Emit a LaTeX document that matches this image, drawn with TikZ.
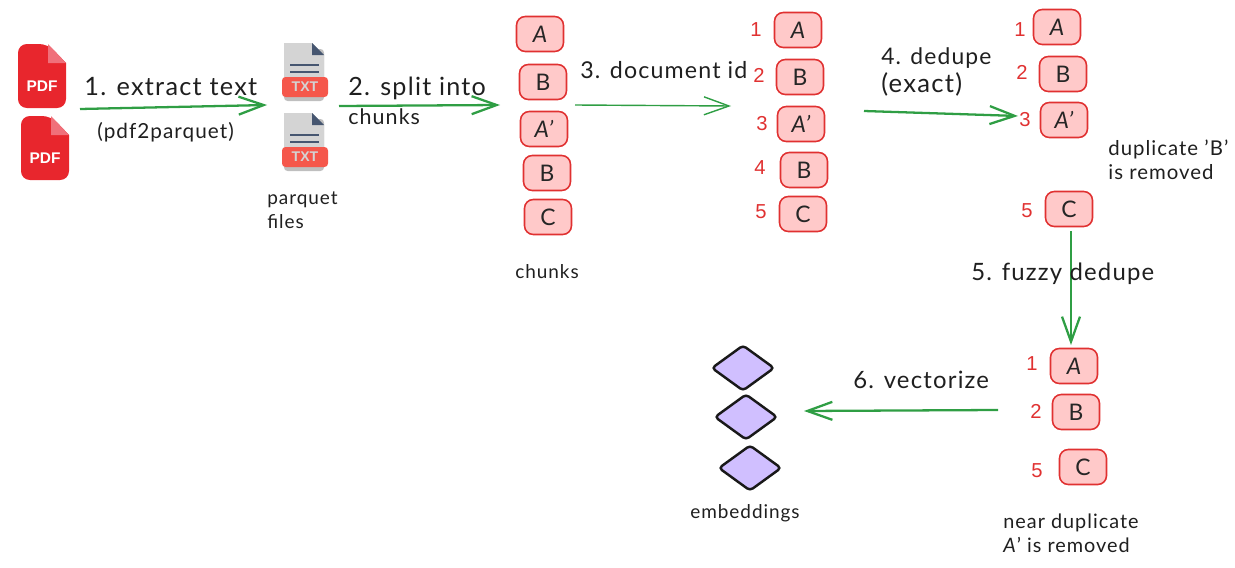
\documentclass[tikz,border=0pt]{standalone}
\usepackage{fontspec}
\setmainfont{Lato}[LetterSpace=5]
\newfontfamily\iconfont{Liberation Sans}
\usetikzlibrary{shapes.geometric, arrows.meta}

\definecolor{chunkfill}{HTML}{FFC9C9}
\definecolor{chunkline}{HTML}{E03131}
\definecolor{flowgreen}{HTML}{2F9E44}
\definecolor{vecfill}{HTML}{D0BFFF}
\definecolor{pdfred}{HTML}{E8262D}
\definecolor{pdffold}{HTML}{F0707A}
\definecolor{txtgray}{HTML}{D4D4D4}
\definecolor{txtblue}{HTML}{465670}
\definecolor{txtband}{HTML}{F5574B}

\tikzset{
  chunk/.style={draw=chunkline, fill=chunkfill, line width=0.9pt, rounded corners=5pt,
    minimum width=0.94cm, minimum height=0.7cm, inner sep=0pt, text=black!85, font=\fontsize{13}{15}\selectfont},
  idnum/.style={text=chunkline, inner sep=0pt, font=\iconfont\fontsize{11.5}{13}\selectfont},
  vec/.style={diamond, draw=black!90, fill=vecfill, line width=1.4pt, rounded corners=2pt,
    minimum width=1.26cm, minimum height=0.92cm, inner sep=0pt, aspect=1.38},
  flow/.style={-{Straight Barb[length=0.5cm, width=0.36cm]}, draw=flowgreen, line width=1.3pt},
  steplabel/.style={align=left, anchor=west, inner sep=0pt, text=black!88, font=\fontsize{13.6}{16}\selectfont},
  note/.style={align=left, anchor=west, inner sep=0pt, text=black!88, font=\fontsize{10.8}{13.6}\selectfont},
  pdfdoc/.pic={
    \fill[pdfred] (48,19) [rounded corners=5pt] -- (48,64) -- (0,64) -- (0,0) -- (30,0) [sharp corners] -- cycle;
    \fill[pdffold] (30,0) -- (48,19) -- (30,19) -- cycle;
    \node[text=white, inner sep=0pt, font=\iconfont\bfseries\fontsize{8.8}{10}\selectfont] (-label) at (24,42) {PDF};
  },
  txtdoc/.pic={
    \fill[black!25, rounded corners=2pt] (2,6) rectangle (42,58);
    \fill[txtgray] (2,0) -- (30,0) -- (42,12) -- (42,50) -- (2,50) -- cycle;
    \fill[txtblue] (30,0) -- (42,12) -- (30,12) -- cycle;
    \draw[txtblue, line width=0.7pt] (8,22) -- (37,22) (8,29) -- (37,29);
    \fill[txtband, rounded corners=2pt] (0,34) rectangle (46,54);
    \node[text=txtgray, inner sep=0pt, font=\iconfont\bfseries\fontsize{8}{10}\selectfont] (-label) at (23,44) {TXT};
  }
}

\begin{document}
\begin{tikzpicture}[x=0.02cm, y=-0.02cm]
\useasboundingbox (0,0) rectangle (1235,568);

% Source files
\pic (pdfa) at (18,44) {pdfdoc};
\pic (pdfb) at (21,116) {pdfdoc};
\pic (txta) at (282,43) {txtdoc};
\pic (txtb) at (282,113) {txtdoc};
\node[note] (parquet) at (267,210) {parquet\\files};

% Chunks
\node[chunk] (cha) at (540,34) {\itshape A};
\node[chunk] (chb) at (543,82) {B};
\node[chunk] (chap) at (544,129) {\itshape A'};
\node[chunk] (chbb) at (547,173) {B};
\node[chunk] (chc) at (548,217) {C};
\node[note] (chunks) at (515,272) {chunks};

% Chunks with document id
\node[chunk] (ida) at (798,30) {\itshape A};
\node[chunk] (idb) at (800,77) {B};
\node[chunk] (idap) at (801,124) {\itshape A'};
\node[chunk] (idbb) at (804,170) {B};
\node[chunk] (idc) at (803,214) {C};
\node[idnum] (numa) at (756,30) {1};
\node[idnum] (numb) at (759,75) {2};
\node[idnum] (numap) at (762,124) {3};
\node[idnum] (numbb) at (760,168) {4};
\node[idnum] (numc) at (761,212) {5};

% Exact dedupe
\node[chunk] (exa) at (1057,27) {\itshape A};
\node[chunk] (exb) at (1063,74) {B};
\node[chunk] (exap) at (1064,120) {\itshape A'};
\node[chunk] (exc) at (1069,209) {C};
\node[idnum] (exnuma) at (1020,30) {1};
\node[idnum] (exnumb) at (1022,72) {2};
\node[idnum] (exnumap) at (1025,120) {3};
\node[idnum] (exnumc) at (1027,211) {5};
\node[note, font=\fontsize{11.6}{13.6}\selectfont] (removedb) at (1108,160) {duplicate 'B'\\is removed};

% Fuzzy dedupe
\node[chunk] (fza) at (1074,366) {\itshape A};
\node[chunk] (fzb) at (1076,412) {B};
\node[chunk] (fzc) at (1083,467) {C};
\node[idnum] (fznuma) at (1032,364) {1};
\node[idnum] (fznumb) at (1036,411) {2};
\node[idnum] (fznumc) at (1037,471) {5};
\node[note, font=\fontsize{11.3}{13.6}\selectfont] (removeda) at (1003,533) {near duplicate\\\textit{A}' is removed};

% Embeddings
\node[vec] (veca) at (743,368) {};
\node[vec] (vecb) at (746,417) {};
\node[vec] (vecc) at (750,468) {};
\node[note] (embed) at (690,513) {embeddings};

% Flow ends
\coordinate (extractfrom) at (80,109);
\coordinate (extractto) at (267,105);
\coordinate (splitfrom) at (339,106);
\coordinate (splitto) at (500,105);
\coordinate (idfrom) at (575,105);
\coordinate (idto) at (731,106);
\coordinate (exactfrom) at (864,111);
\coordinate (exactto) at (1018,116);
\coordinate (fuzzyfrom) at (1071,231);
\coordinate (fuzzyto) at (1071,345);
\coordinate (vectorfrom) at (998,410);
\coordinate (vectorto) at (804,411);

% Flow
\draw[flow] (extractfrom) -- (extractto);
\draw[flow] (splitfrom) -- (splitto);
\draw[flow, line width=0.8pt] (idfrom) -- (idto);
\draw[flow] (exactfrom) -- (exactto);
\draw[flow] (fuzzyfrom) -- (fuzzyto);
\draw[flow] (vectorfrom) -- (vectorto);

% Step labels
\node[steplabel, font=\fontsize{14.4}{16}\selectfont] (stepone) at (84,87) {1. extract text};
\node[note, font=\fontsize{11.8}{13}\selectfont] (pdftool) at (97,132) {(pdf2parquet)};
\node[steplabel, font=\fontsize{14.3}{16.5}\selectfont] (steptwo) at (348,101) {2. split into\\{\fontsize{12.2}{16.5}\selectfont chunks}};
\node[steplabel, font=\fontsize{13.2}{16}\selectfont] (stepthree) at (580,70) {3. document id};
\node[steplabel, font=\fontsize{13}{16}\selectfont] (stepfour) at (881,72) {4. dedupe\\{\fontsize{14.6}{16}\selectfont (exact)}};
\node[steplabel] (stepfive) at (971,274) {5. fuzzy dedupe};
\node[steplabel] (stepsix) at (853,380) {6. vectorize};
\end{tikzpicture}
\end{document}
